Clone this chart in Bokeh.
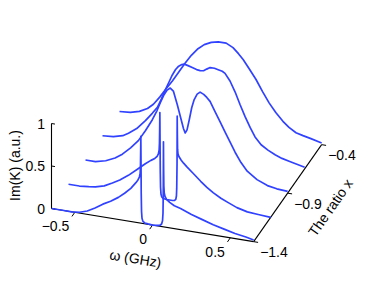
import numpy as np
from bokeh.plotting import figure
from bokeh.models import Range1d, Label
from bokeh.embed import file_html
from bokeh.resources import INLINE

# ---------------- data ----------------
ratio_x = [-1.4, -1.15, -0.9, -0.65, -0.4]

omega_0 = [-0.65, -0.58, -0.52, -0.47, -0.42, -0.37, -0.32, -0.27, -0.22, -0.18, -0.14, -0.11,
           -0.095, -0.085, -0.080, -0.078, -0.0765, -0.0755, -0.0745, -0.073, -0.071, -0.068,
           -0.062, -0.05, -0.03, 0.0, 0.03, 0.048, 0.058, 0.064, 0.067, 0.069, 0.0700, 0.0710,
           0.0725, 0.075, 0.08, 0.09, 0.11, 0.14, 0.18, 0.25, 0.32, 0.39, 0.46, 0.53, 0.60, 0.65]
imk_0 = [0.0, 0.0, 0.0, 0.01, 0.04, 0.09, 0.15, 0.20, 0.26, 0.32, 0.39, 0.46,
         0.50, 0.54, 0.58, 0.66, 0.85, 1.02, 0.75, 0.35, 0.14, 0.06,
         0.025, 0.01, 0.005, 0.0, 0.005, 0.012, 0.03, 0.07, 0.16, 0.45, 1.0, 0.7,
         0.48, 0.40, 0.36, 0.33, 0.30, 0.27, 0.25, 0.20, 0.16, 0.12, 0.09, 0.06, 0.04, 0.02]

omega_1 = [-0.65, -0.58, -0.52, -0.477, -0.42, -0.368, -0.32, -0.265, -0.20, -0.156, -0.12, -0.095,
           -0.08, -0.072, -0.067, -0.065, -0.0635, -0.0625, -0.0615, -0.060, -0.058, -0.055, -0.05,
           -0.04, -0.02, 0.0, 0.02, 0.032, 0.040, 0.044, 0.046, 0.048, 0.049, 0.050, 0.0515, 0.054,
           0.06, 0.075, 0.09, 0.113, 0.151, 0.20, 0.24, 0.28, 0.33, 0.38, 0.433, 0.50, 0.57, 0.65]
imk_1 = [0.0, 0.0, 0.01, 0.02, 0.05, 0.10, 0.15, 0.22, 0.32, 0.39, 0.44, 0.47,
         0.50, 0.53, 0.58, 0.66, 0.85, 1.02, 0.75, 0.35, 0.14, 0.06, 0.03,
         0.015, 0.01, 0.01, 0.01, 0.015, 0.03, 0.07, 0.16, 0.45, 1.01, 0.8, 0.62, 0.57,
         0.54, 0.50, 0.47, 0.43, 0.37, 0.29, 0.23, 0.18, 0.13, 0.09, 0.05, 0.02, 0.01, 0.0]

omega_2 = [-0.65, -0.586, -0.52, -0.46, -0.413, -0.36, -0.31, -0.265, -0.221, -0.19, -0.169, -0.145,
           -0.125, -0.105, -0.085, -0.06, -0.035, -0.02, -0.009, 0.003, 0.017, 0.033, 0.049, 0.068,
           0.087, 0.11, 0.13, 0.151, 0.183, 0.215, 0.247, 0.28, 0.312, 0.35, 0.39, 0.453, 0.52, 0.58, 0.65]
imk_2 = [0.0, 0.0, 0.03, 0.08, 0.14, 0.23, 0.33, 0.46, 0.60, 0.72, 0.82, 0.92,
         0.98, 1.01, 0.98, 0.83, 0.66, 0.56, 0.51, 0.55, 0.67, 0.82, 0.92, 0.99,
         1.02, 1.0, 0.97, 0.93, 0.82, 0.71, 0.60, 0.49, 0.38, 0.27, 0.18, 0.10, 0.05, 0.03, 0.02]

omega_3 = [-0.65, -0.58, -0.52, -0.483, -0.43, -0.374, -0.33, -0.297, -0.27, -0.246, -0.22, -0.201,
           -0.18, -0.163, -0.14, -0.124, -0.10, -0.073, -0.045, -0.022, 0.0, 0.02, 0.042, 0.07,
           0.094, 0.12, 0.138, 0.17, 0.203, 0.235, 0.267, 0.30, 0.331, 0.37, 0.414, 0.46, 0.504,
           0.55, 0.60, 0.65]
imk_3 = [0.0, 0.01, 0.04, 0.08, 0.15, 0.26, 0.36, 0.44, 0.55, 0.66, 0.77, 0.85,
         0.92, 0.96, 0.99, 1.0, 0.99, 0.975, 0.96, 0.955, 0.96, 0.985, 1.01, 1.01,
         1.0, 0.99, 0.97, 0.89, 0.77, 0.63, 0.50, 0.38, 0.28, 0.20, 0.15, 0.11, 0.08,
         0.06, 0.04, 0.02]

omega_4 = [-0.65, -0.58, -0.522, -0.47, -0.432, -0.39, -0.349, -0.31, -0.272, -0.23, -0.188, -0.145,
           -0.105, -0.06, -0.015, 0.036, 0.08, 0.115, 0.145, 0.185, 0.228, 0.27, 0.312, 0.355,
           0.401, 0.44, 0.485, 0.53, 0.581, 0.65]
imk_4 = [0.0, 0.01, 0.04, 0.09, 0.15, 0.25, 0.36, 0.46, 0.57, 0.69, 0.80, 0.89,
         0.95, 0.99, 1.01, 1.01, 0.97, 0.91, 0.85, 0.75, 0.64, 0.51, 0.39, 0.29,
         0.20, 0.14, 0.09, 0.07, 0.05, 0.02]

omega_ticks = [-0.5, 0.0, 0.5]
omega_tick_labels = ["\u22120.5", "0", "0.5"]
ratio_ticks = [-1.4, -0.9, -0.4]
ratio_tick_labels = ["\u22121.4", "\u22120.9", "\u22120.4"]
imk_ticks = [0.0, 0.5, 1.0]
imk_tick_labels = ["0", "0.5", "1"]

omega_range = [-0.65, 0.65]
ratio_range = [-1.4, -0.4]
imk_range = [0.0, 1.0]

# ---------------- oblique 3D projection (page pixels) ----------------
ORIGIN = (51.0, 208.0)
PER_W = (155.5, 25.5)
PER_X = (68.0, -97.0)
PER_Z = (0.0, -85.0)


def project(w, xr, z):
    w = np.asarray(w, dtype=float) - omega_range[0]
    xr = np.asarray(xr, dtype=float) - ratio_range[0]
    z = np.asarray(z, dtype=float)
    X = ORIGIN[0] + PER_W[0] * w + PER_X[0] * xr + PER_Z[0] * z
    Y = ORIGIN[1] + PER_W[1] * w + PER_X[1] * xr + PER_Z[1] * z
    return X, Y


FONT = "Liberation Sans"
FS = "14px"
AX = "black"
BLUE = "#3042ff"

p = figure(width=372, height=270, x_range=Range1d(0, 372), y_range=Range1d(270, 0),
           x_axis_type=None, y_axis_type=None, min_border=0,
           toolbar_location=None, output_backend="svg", outline_line_color=None)
p.grid.visible = False
p.background_fill_color = "white"
p.border_fill_color = "white"

# axes lines
X, Y = project(np.array(omega_range), [ratio_range[0]] * 2, [0, 0])
p.line(X, Y, line_color=AX, line_width=1.1)
X, Y = project([omega_range[1]] * 2, np.array(ratio_range), [0, 0])
p.line(X, Y, line_color=AX, line_width=1.1)
X, Y = project([omega_range[0]] * 2, [ratio_range[0]] * 2, np.array(imk_range))
p.line(X, Y, line_color=AX, line_width=1.1)


def unit(v):
    v = np.array(v, dtype=float)
    return v / np.hypot(*v)


uw = unit(PER_W)
ux = unit(PER_X)

# omega ticks (pointing toward the viewer)
for t, lab in zip(omega_ticks, omega_tick_labels):
    X0, Y0 = project(t, ratio_range[0], 0)
    X0, Y0 = float(X0), float(Y0)
    p.line([X0, X0 - 5 * ux[0]], [Y0, Y0 - 5 * ux[1]], line_color=AX, line_width=1)
    p.add_layout(Label(x=X0 - 5.5, y=Y0 + 14, text=lab, text_font=FONT, text_font_size=FS,
                       text_align="right", text_baseline="middle", text_color=AX))

# ratio ticks
for t, lab in zip(ratio_ticks, ratio_tick_labels):
    X0, Y0 = project(omega_range[1], t, 0)
    X0, Y0 = float(X0), float(Y0)
    p.line([X0, X0 + 4.5 * uw[0]], [Y0, Y0 + 4.5 * uw[1]], line_color=AX, line_width=1)
    p.add_layout(Label(x=X0 + 6.5, y=Y0 + 10.5, text=lab, text_font=FONT, text_font_size=FS,
                       text_align="left", text_baseline="middle", text_color=AX))

# Im(K) ticks
for t, lab in zip(imk_ticks, imk_tick_labels):
    X0, Y0 = project(omega_range[0], ratio_range[0], t)
    X0, Y0 = float(X0), float(Y0)
    p.line([X0, X0 + 3.5 * uw[0]], [Y0, Y0 + 3.5 * uw[1]], line_color=AX, line_width=1)
    p.add_layout(Label(x=X0 - 6.5, y=Y0, text=lab, text_font=FONT, text_font_size=FS,
                       text_align="right", text_baseline="middle", text_color=AX))

# curves
omegas = [omega_0, omega_1, omega_2, omega_3, omega_4]
imks = [imk_0, imk_1, imk_2, imk_3, imk_4]
for xr, om, ik in zip(ratio_x, omegas, imks):
    X, Y = project(om, [xr] * len(om), ik)
    p.line(X, Y, line_color=BLUE, line_width=1.7, line_join="round")

# axis titles
p.add_layout(Label(x=14, y=165, text="Im(K) (a.u.)", text_font=FONT, text_font_size=FS,
                   text_align="center", text_baseline="middle", angle=90, angle_units="deg",
                   text_color=AX))
ang_w = -np.degrees(np.arctan2(PER_W[1], PER_W[0]))
p.add_layout(Label(x=135, y=258, text="\u03c9 (GHz)", text_font=FONT, text_font_size=FS,
                   text_align="center", text_baseline="middle", angle=ang_w, angle_units="deg",
                   text_color=AX))
ang_x = -np.degrees(np.arctan2(PER_X[1], PER_X[0]))
p.add_layout(Label(x=330, y=207, text="The ratio x", text_font=FONT, text_font_size=FS,
                   text_align="center", text_baseline="middle", angle=ang_x, angle_units="deg",
                   text_color=AX))

open("out.html", "w").write(file_html(p, INLINE))
